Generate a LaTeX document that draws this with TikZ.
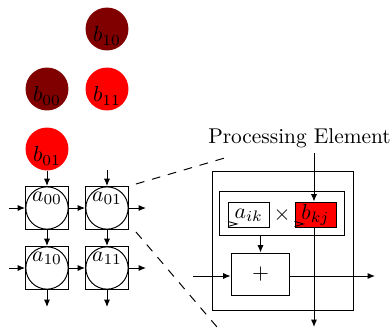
\documentclass[tikz,border=0pt]{standalone}
\usetikzlibrary{arrows.meta}
\definecolor{dred}{rgb}{0.5,0,0}
\tikzset{
  arr/.style={-{Latex[length=3.4pt,width=2.8pt]},line width=0.45pt},
  pix/.style={x=0.4587pt,y=-0.4587pt},
  ball/.style={circle,minimum size=19.7pt,inner sep=0pt,fill=#1},
  pebox/.style={draw,line width=0.45pt,minimum width=19.7pt,minimum height=19.7pt,inner sep=0pt},
  pecirc/.style={draw,circle,line width=0.45pt,minimum size=19.4pt,inner sep=0pt},
  txt/.style={inner sep=0pt},
  clk/.style={line width=0.4pt},
  zoomline/.style={line width=0.45pt,dash pattern=on 4pt off 3.6pt}
}
\begin{document}
\begin{tikzpicture}[pix]
\useasboundingbox (0,0) rectangle (392,329);
% b balls
\node[ball=dred] (b10) at (107,29) {};
\node[ball=dred] (b00) at (47,89) {};
\node[ball=red] (b11) at (107,89) {};
\node[ball=red] (b01) at (47,149) {};
\node[txt] (tb10) at (107,36) {$b_{10}$};
\node[txt] (tb00) at (47,96) {$b_{00}$};
\node[txt] (tb11) at (107,96) {$b_{11}$};
\node[txt] (tb01) at (47,156) {$b_{01}$};
% PE grid
\foreach \n/\x/\y in {00/47/208,01/107/208,10/47/268,11/107/268}{
  \node[pebox] (box\n) at (\x,\y) {};
  \node[pecirc] (c\n) at (\x,\y) {};
  \node[txt] (ta\n) at (\x,\y-10) {$a_{\n}$};
}
\coordinate (in0) at (9,208);
\coordinate (in1) at (9,268);
\coordinate (out0) at (146,208);
\coordinate (out1) at (146,268);
\coordinate (top1) at (107,170);
\coordinate (bot0) at (47,307);
\coordinate (bot1) at (107,307);
\draw[arr] (b01) -- (box00);
\draw[arr] (top1) -- (box01);
\draw[arr] (box00) -- (box10);
\draw[arr] (box01) -- (box11);
\draw[arr] (box10) -- (bot0);
\draw[arr] (box11) -- (bot1);
\draw[arr] (in0) -- (box00);
\draw[arr] (box00) -- (box01);
\draw[arr] (box01) -- (out0);
\draw[arr] (in1) -- (box10);
\draw[arr] (box10) -- (box11);
\draw[arr] (box11) -- (out1);
% detail
\node[txt,scale=0.98] (title) at (299.5,138) {Processing Element};
\node[draw,line width=0.45pt,inner sep=0pt,minimum width=65.1pt,minimum height=64.2pt] (outer) at (283,241) {};
\node[draw,line width=0.45pt,inner sep=0pt,minimum width=56.9pt,minimum height=20.6pt] (mul) at (282,213.5) {};
\node[draw,line width=0.45pt,inner sep=0pt,minimum width=18.6pt,minimum height=11.9pt] (aik) at (248.75,215) {$a_{ik}$};
\node[draw,line width=0.45pt,fill=red,inner sep=0pt,minimum width=18.8pt,minimum height=11.9pt] (bkj) at (315.5,215) {$b_{kj}$};
\node[txt] (times) at (282,215) {$\times$};
\node[draw,line width=0.45pt,inner sep=0pt,minimum width=27pt,minimum height=19.7pt] (add) at (260.5,274.5) {$+$};
\draw[clk] (aik.south west) ++(0,-7) -- ++(9,2.5) -- ++(-9,2.5);
\draw[clk] (bkj.south west) ++(0,-7) -- ++(9,2.5) -- ++(-9,2.5);
\coordinate (vtop) at (314,153);
\coordinate (vbot) at (314,327);
\coordinate (hin) at (193,276);
\coordinate (hout) at (375,276);
\draw[arr] (vtop) -- (vtop |- bkj.north);
\draw[arr] (vtop |- bkj.south) -- (vbot);
\draw[arr] (hin) -- (hin -| add.west);
\draw[arr] (hin -| add.east) -- (hout);
\draw[arr] (mul.south -| add) -- (add);
% zoom lines
\coordinate (z1) at (136,184);
\coordinate (z2) at (228,157);
\coordinate (z3) at (136,232);
\coordinate (z4) at (217,327);
\draw[zoomline] (z1) -- (z2);
\draw[zoomline] (z3) -- (z4);
\end{tikzpicture}
\end{document}
